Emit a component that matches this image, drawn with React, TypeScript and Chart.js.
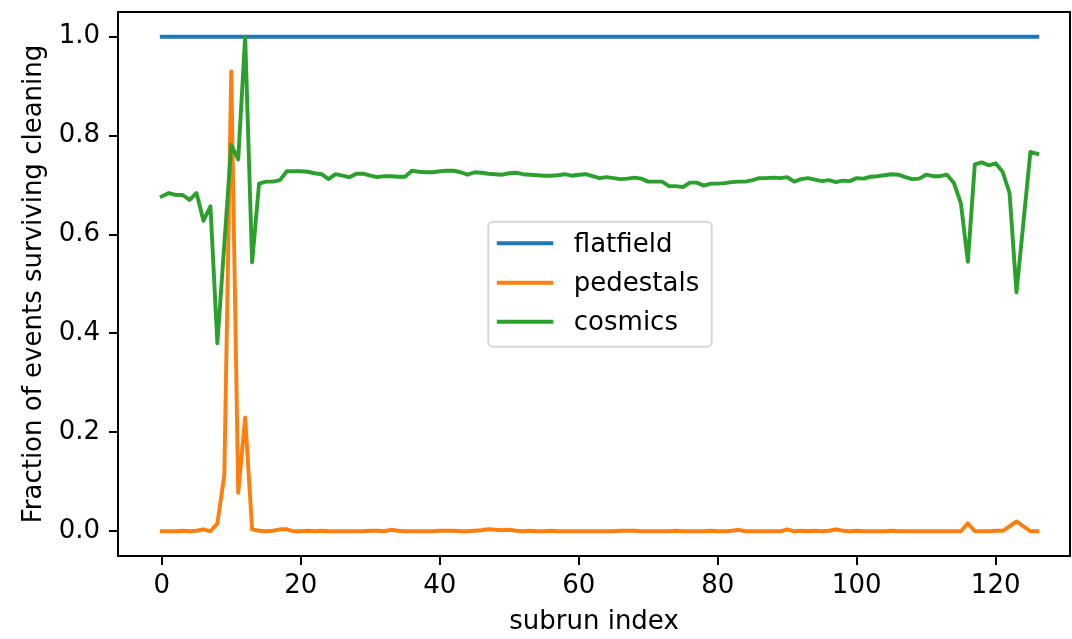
import React, { useEffect, useRef } from "react";
import { Chart, registerables } from "chart.js";

Chart.register(...registerables);

const FONT = "'DejaVu Sans', sans-serif";

const subrunIndex = [
  0, 1, 2, 3, 4, 5, 6, 7, 8, 9, 10, 11, 12, 13, 14, 15, 16, 17, 18, 19,
  20, 21, 22, 23, 24, 25, 26, 27, 28, 29, 30, 31, 32, 33, 34, 35, 36, 37, 38, 39,
  40, 41, 42, 43, 44, 45, 46, 47, 48, 49, 50, 51, 52, 53, 54, 55, 56, 57, 58, 59,
  60, 61, 62, 63, 64, 65, 66, 67, 68, 69, 70, 71, 72, 73, 74, 75, 76, 77, 78, 79,
  80, 81, 82, 83, 84, 85, 86, 87, 88, 89, 90, 91, 92, 93, 94, 95, 96, 97, 98, 99,
  100, 101, 102, 103, 104, 105, 106, 107, 108, 109, 110, 111, 112, 113, 114, 115, 116, 117, 118, 119,
  120, 121, 122, 123, 124, 125, 126,
];

const flatfield = [
  1, 1, 1, 1, 1, 1, 1, 1, 1, 1, 1, 1, 1, 1, 1, 1, 1, 1, 1, 1,
  1, 1, 1, 1, 1, 1, 1, 1, 1, 1, 1, 1, 1, 1, 1, 1, 1, 1, 1, 1,
  1, 1, 1, 1, 1, 1, 1, 1, 1, 1, 1, 1, 1, 1, 1, 1, 1, 1, 1, 1,
  1, 1, 1, 1, 1, 1, 1, 1, 1, 1, 1, 1, 1, 1, 1, 1, 1, 1, 1, 1,
  1, 1, 1, 1, 1, 1, 1, 1, 1, 1, 1, 1, 1, 1, 1, 1, 1, 1, 1, 1,
  1, 1, 1, 1, 1, 1, 1, 1, 1, 1, 1, 1, 1, 1, 1, 1, 1, 1, 1, 1,
  1, 1, 1, 1, 1, 1, 1,
];

const pedestals = [
  0.0, 0.0, 0.0, 0.001, 0.0, 0.001, 0.004, 0.0, 0.016, 0.113,
  0.93, 0.078, 0.23, 0.004, 0.001, 0.0, 0.001, 0.004, 0.004, 0.0,
  0.0, 0.001, 0.0, 0.001, 0.0, 0.0, 0.0, 0.0, 0.0, 0.0,
  0.001, 0.001, 0.0, 0.003, 0.001, 0.0, 0.0, 0.0, 0.0, 0.0,
  0.001, 0.001, 0.001, 0.0, 0.0, 0.001, 0.002, 0.004, 0.003, 0.002,
  0.003, 0.001, 0.0, 0.001, 0.0, 0.0, 0.001, 0.0, 0.0, 0.0,
  0.0, 0.0, 0.0, 0.0, 0.0, 0.0, 0.001, 0.001, 0.001, 0.0,
  0.0, 0.0, 0.0, 0.0, 0.001, 0.0, 0.0, 0.0, 0.0, 0.001,
  0.0, 0.0, 0.001, 0.003, 0.0, 0.0, 0.0, 0.0, 0.0, 0.0,
  0.004, 0.0, 0.001, 0.0, 0.001, 0.0, 0.001, 0.004, 0.001, 0.0,
  0.001, 0.0, 0.0, 0.0, 0.0, 0.001, 0.0, 0.0, 0.0, 0.0,
  0.0, 0.0, 0.0, 0.0, 0.0, 0.0, 0.016, 0.0, 0.0, 0.0,
  0.001, 0.001, 0.01, 0.02, 0.01, 0.0, 0.0,
];

const cosmics = [
  0.677, 0.684, 0.68, 0.68, 0.67, 0.684, 0.628, 0.657, 0.38, 0.58,
  0.781, 0.752, 1.0, 0.544, 0.703, 0.707, 0.707, 0.71, 0.728, 0.728,
  0.728, 0.727, 0.724, 0.722, 0.712, 0.722, 0.719, 0.716, 0.723, 0.723,
  0.719, 0.716, 0.718, 0.718, 0.717, 0.717, 0.729, 0.727, 0.726, 0.726,
  0.728, 0.729, 0.729, 0.726, 0.721, 0.726, 0.725, 0.723, 0.722, 0.721,
  0.724, 0.725, 0.722, 0.721, 0.72, 0.719, 0.719, 0.72, 0.722, 0.719,
  0.721, 0.722, 0.718, 0.714, 0.716, 0.714, 0.712, 0.713, 0.715, 0.713,
  0.707, 0.707, 0.707, 0.698, 0.698, 0.696, 0.705, 0.705, 0.699, 0.703,
  0.703, 0.704, 0.706, 0.707, 0.707, 0.71, 0.714, 0.714, 0.715, 0.714,
  0.716, 0.707, 0.712, 0.714, 0.711, 0.708, 0.71, 0.706, 0.709, 0.708,
  0.714, 0.713, 0.717, 0.718, 0.72, 0.722, 0.721, 0.716, 0.712, 0.713,
  0.721, 0.718, 0.718, 0.721, 0.704, 0.663, 0.545, 0.742, 0.746, 0.74,
  0.744, 0.727, 0.684, 0.483, 0.625, 0.767, 0.763,
];

const seriesNames = ["flatfield", "pedestals", "cosmics"];
const seriesColors = ["#1f77b4", "#ff7f0e", "#2ca02c"];

const xTicks = [0, 20, 40, 60, 80, 100, 120];
const yTicks = [0.0, 0.2, 0.4, 0.6, 0.8, 1.0];

const xLabel = "subrun index";
const yLabel = "Fraction of events surviving cleaning";

const LINE_W = 3.9;

const framePlugin = {
  id: "frame",
  afterDraw(chart: any) {
    const { ctx, chartArea: a } = chart;
    ctx.save();
    ctx.strokeStyle = "#000";
    ctx.lineWidth = 2;
    ctx.strokeRect(a.left, a.top, a.right - a.left, a.bottom - a.top);
    ctx.restore();
  },
};

const legendPlugin = {
  id: "mplLegend",
  afterDraw(chart: any) {
    const { ctx, chartArea: a } = chart;
    const bx = a.left + 370.3;
    const by = a.top + 209.7;
    const bw = 223.4;
    const bh = 125;
    ctx.save();
    ctx.beginPath();
    (ctx as any).roundRect(bx, by, bw, bh, 5);
    ctx.fillStyle = "rgba(255,255,255,0.8)";
    ctx.fill();
    ctx.lineWidth = 2;
    ctx.strokeStyle = "rgba(204,204,204,0.8)";
    ctx.stroke();
    const rows = [21.6, 61, 100];
    ctx.font = `26px ${FONT}`;
    ctx.textBaseline = "alphabetic";
    ctx.textAlign = "left";
    seriesNames.forEach((name, i) => {
      const y = by + rows[i];
      ctx.beginPath();
      ctx.moveTo(bx + 8.5, y);
      ctx.lineTo(bx + 65, y);
      ctx.strokeStyle = seriesColors[i];
      ctx.lineWidth = LINE_W;
      ctx.lineCap = "butt";
      ctx.stroke();
      ctx.fillStyle = "#000";
      ctx.fillText(name, bx + 85.5, y + 8.5);
    });
    ctx.restore();
  },
};

export default function App() {
  const canvasRef = useRef<HTMLCanvasElement | null>(null);

  useEffect(() => {
    document.body.style.margin = "0";
    const canvas = canvasRef.current;
    if (!canvas) return;
    const series = [flatfield, pedestals, cosmics];
    const chart = new Chart(canvas, {
      type: "line",
      data: {
        datasets: series.map((vals, i) => ({
          label: seriesNames[i],
          data: vals.map((v, j) => ({ x: subrunIndex[j], y: v })),
          borderColor: seriesColors[i],
          backgroundColor: seriesColors[i],
          borderWidth: LINE_W,
          pointRadius: 0,
          tension: 0,
          fill: false,
          borderJoinStyle: "round" as const,
          borderCapStyle: "square" as const,
          order: 2 - i,
        })),
      },
      options: {
        animation: false,
        responsive: false,
        devicePixelRatio: 1,
        layout: { padding: { top: 12, right: 2, left: 0, bottom: 0 } },
        plugins: {
          legend: { display: false },
          tooltip: { enabled: false },
        },
        scales: {
          x: {
            type: "linear",
            min: -6.3,
            max: 130.7,
            afterBuildTicks: (s: any) => {
              s.ticks = xTicks.map((v) => ({ value: v }));
            },
            afterFit: (s: any) => {
              s.height = 83;
              s.paddingLeft = 0;
              s.paddingRight = 0;
            },
            ticks: {
              autoSkip: false,
              maxRotation: 0,
              color: "#000",
              padding: 6,
              font: { family: FONT, size: 26 },
              callback: (v: any) => String(v),
            },
            grid: {
              display: true,
              drawOnChartArea: false,
              drawTicks: true,
              tickLength: 9,
              tickColor: "#000",
              tickWidth: 2,
              color: "#000",
              lineWidth: 2,
            },
            border: { display: false },
            title: {
              display: true,
              text: xLabel,
              color: "#000",
              font: { family: FONT, size: 26 },
              padding: { top: 0, bottom: 0.7 },
            },
          },
          y: {
            type: "linear",
            min: -0.05,
            max: 1.05,
            afterBuildTicks: (s: any) => {
              s.ticks = yTicks.map((v) => ({ value: v }));
            },
            afterFit: (s: any) => {
              s.width = 118;
              s.paddingTop = 0;
              s.paddingBottom = 0;
            },
            ticks: {
              autoSkip: false,
              color: "#000",
              padding: 9,
              font: { family: FONT, size: 26 },
              callback: (v: any) => Number(v).toFixed(1),
            },
            grid: {
              display: true,
              drawOnChartArea: false,
              drawTicks: true,
              tickLength: 9,
              tickColor: "#000",
              tickWidth: 2,
              color: "#000",
              lineWidth: 2,
            },
            border: { display: false },
            title: {
              display: true,
              text: yLabel,
              color: "#000",
              font: { family: FONT, size: 26 },
              padding: { top: 18.4, bottom: 0 },
            },
          },
        },
      },
      plugins: [framePlugin, legendPlugin],
    });
    return () => chart.destroy();
  }, []);

  return (
    <div style={{ width: 1072, height: 639, background: "#fff" }}>
      <canvas ref={canvasRef} width={1072} height={639} style={{ display: "block" }} />
    </div>
  );
}
